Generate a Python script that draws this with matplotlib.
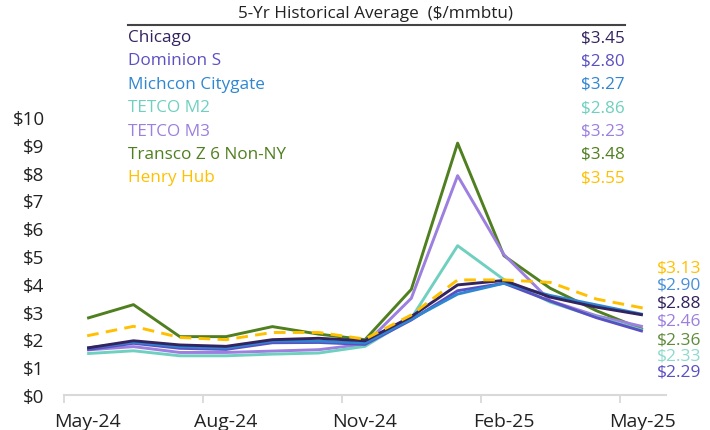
import matplotlib

matplotlib.use("Agg")
import matplotlib.pyplot as plt
import numpy as np

plt.rcParams["font.family"] = ["Open Sans", "DejaVu Sans"]

# Aylar (May-24 .. May-25)
months = ["May-24", "Jun-24", "Jul-24", "Aug-24", "Sep-24", "Oct-24", "Nov-24",
          "Dec-24", "Jan-25", "Feb-25", "Mar-25", "Apr-25", "May-25"]

chicago = [1.69, 1.95, 1.80, 1.75, 1.99, 2.04, 1.95, 2.82, 3.96, 4.12, 3.52, 3.16, 2.88]
dominion = [1.63, 1.86, 1.68, 1.64, 1.88, 1.89, 1.82, 2.70, 3.75, 4.02, 3.38, 2.78, 2.29]
michcon = [1.69, 1.90, 1.74, 1.69, 1.94, 1.94, 1.87, 2.73, 3.63, 4.02, 3.58, 3.24, 2.90]
tetco_m2 = [1.49, 1.59, 1.41, 1.41, 1.47, 1.51, 1.75, 2.76, 5.37, 4.15, 3.34, 2.80, 2.33]
tetco_m3 = [1.62, 1.74, 1.53, 1.53, 1.58, 1.63, 1.83, 3.48, 7.89, 5.05, 3.39, 2.85, 2.46]
transco = [2.76, 3.25, 2.10, 2.10, 2.46, 2.19, 1.99, 3.80, 9.06, 5.01, 3.84, 3.03, 2.36]
henry_hub = [2.13, 2.47, 2.07, 1.99, 2.25, 2.25, 2.01, 2.88, 4.14, 4.14, 4.05, 3.45, 3.13]

names = ["Chicago", "Dominion S", "Michcon Citygate", "TETCO M2", "TETCO M3",
         "Transco Z 6 Non-NY", "Henry Hub"]
hist_avg = ["$3.45", "$2.80", "$3.27", "$2.86", "$3.23", "$3.48", "$3.55"]
series = [chicago, dominion, michcon, tetco_m2, tetco_m3, transco, henry_hub]
colors = ["#33245F", "#5B50C2", "#2F86D1", "#6FD0C0", "#9C7FDF", "#4F7F1F", "#FFC000"]

# Sağdaki son değer etiketleri (üstten alta sıralı)
end_order = [6, 2, 0, 4, 5, 3, 1]
end_colors = ["#FFC000", "#4A8FD8", "#33245F", "#9C7FDF", "#5E8C3A", "#8ED9CB", "#5B50C2"]

W, H = 710, 431
fig = plt.figure(figsize=(W / 100, H / 100), dpi=100)
ax = fig.add_axes([64 / W, (H - 396) / H, (666 - 64) / W, (396 - 118) / H])

x = np.arange(len(months))
# Arka plandan öne çizim sırası
draw_order = [5, 4, 3, 1, 2, 0, 6]
for i in draw_order:
    ls = (0, (4, 2.5)) if names[i] == "Henry Hub" else "-"
    ax.plot(x, series[i], color=colors[i], lw=2.1, ls=ls, solid_capstyle="butt")

ax.set_xlim(-0.5, len(months) - 0.5)
ax.set_ylim(0, 10)
ax.set_yticks(range(0, 11))
ax.set_yticklabels([f"${v}" for v in range(0, 11)], fontsize=13.5, color="#222222")
ax.tick_params(axis="y", length=0, pad=14)

ax.set_xticks(x[::3])
ax.set_xticklabels(months[::3], fontsize=14, color="#222222")
ax.set_xticks(np.arange(-0.5, len(months) - 1, 3), minor=True)
ax.tick_params(axis="x", which="major", length=0, pad=12)
ax.tick_params(axis="x", which="minor", length=6, width=1.3, color="#D9D9D9")

for s in ["top", "right", "left"]:
    ax.spines[s].set_visible(False)
ax.spines["bottom"].set_color("#D9D9D9")
ax.spines["bottom"].set_linewidth(1.5)

# Üstteki tablo
fig.text(376 / W, 1 - 14 / H, "5-Yr Historical Average  ($/mmbtu)", ha="center",
         va="center", fontsize=12.3, color="#222222")
fig.add_artist(plt.Line2D([128 / W, 625 / W], [1 - 26 / H, 1 - 26 / H],
                          color="#444444", lw=1.5))
for k, (nm, val) in enumerate(zip(names, hist_avg)):
    yy = 1 - (38 + 23.4 * k) / H
    fig.text(128 / W, yy, nm, ha="left", va="center", fontsize=12.3, color=colors[k])
    fig.text(625 / W, yy, val, ha="right", va="center", fontsize=12.3, color=colors[k])

end_y = [268, 286, 304, 322, 340, 357, 373]
for yy, i, c in zip(end_y, end_order, end_colors):
    fig.text(657 / W, 1 - yy / H, f"${series[i][-1]:.2f}", ha="left", va="center",
             fontsize=12.5, color=c)

fig.savefig("out.png", dpi=100)
